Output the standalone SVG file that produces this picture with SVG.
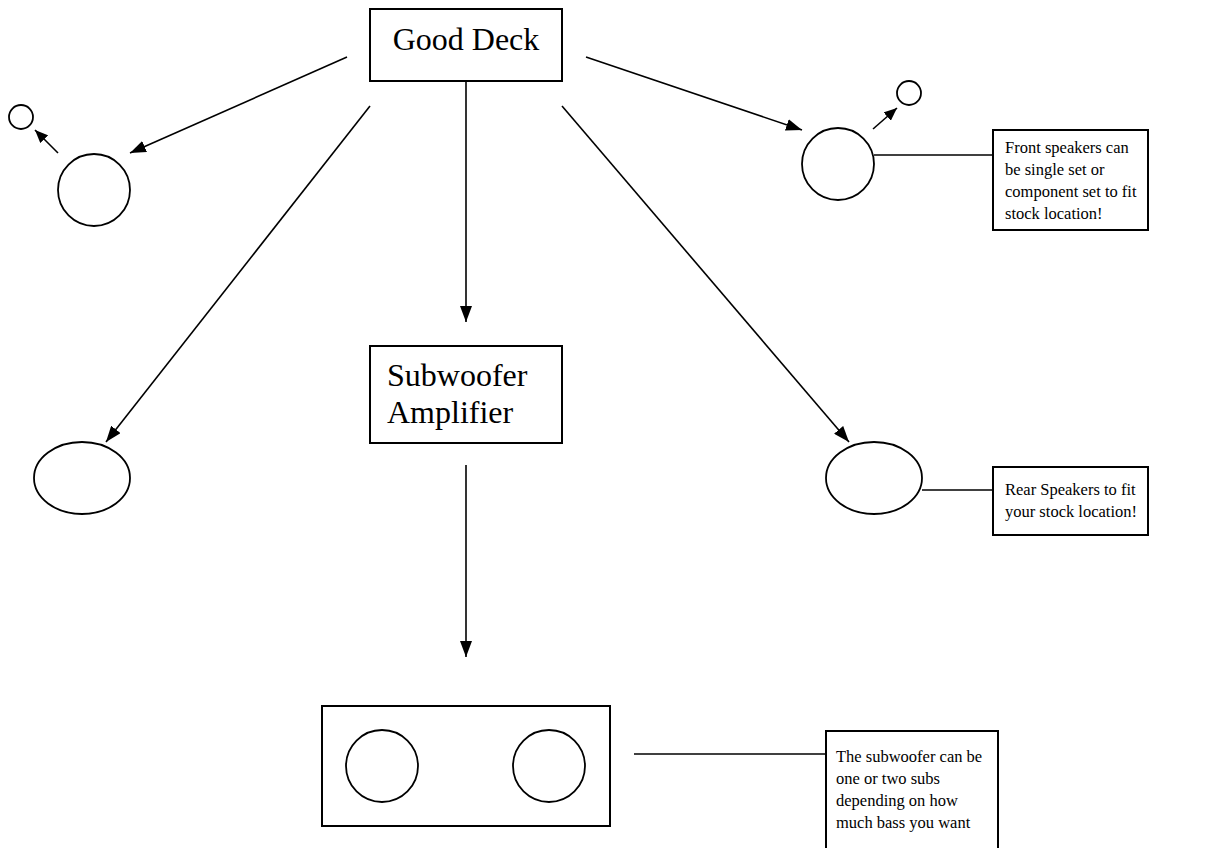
<svg xmlns="http://www.w3.org/2000/svg" width="1212" height="848" viewBox="0 0 1212 848">
<style>
.box{fill:#fff;stroke:#000;stroke-width:2}
.shape{fill:#fff;stroke:#000;stroke-width:1.8}
.conn{stroke:#000;stroke-width:1.6;fill:none}
.big{font-family:"Liberation Serif",serif;font-size:32px;fill:#000}
.note{font-family:"Liberation Serif",serif;font-size:16.5px;fill:#000}
</style>
<defs>
<marker id="ah" viewBox="0 0 16 12" refX="16" refY="6" markerWidth="16" markerHeight="12" markerUnits="userSpaceOnUse" orient="auto"><path d="M0,0 L16,6 L0,12 Z" fill="#000"/></marker>
<marker id="ahs" viewBox="0 0 13 11" refX="13" refY="5.5" markerWidth="13" markerHeight="11" markerUnits="userSpaceOnUse" orient="auto"><path d="M0,0 L13,5.5 L0,11 Z" fill="#000"/></marker>
</defs>
<rect width="1212" height="848" fill="#fff"/>
<g id="connectors">
<line class="conn" x1="347" y1="57" x2="130" y2="153" marker-end="url(#ah)"/>
<line class="conn" x1="58" y1="153" x2="35" y2="130" marker-end="url(#ahs)"/>
<line class="conn" x1="370" y1="106" x2="106" y2="442" marker-end="url(#ah)"/>
<line class="conn" x1="466" y1="81" x2="466" y2="322" marker-end="url(#ah)"/>
<line class="conn" x1="466" y1="465" x2="466" y2="657" marker-end="url(#ah)"/>
<line class="conn" x1="586" y1="57" x2="802" y2="130" marker-end="url(#ah)"/>
<line class="conn" x1="873" y1="129" x2="897" y2="108" marker-end="url(#ahs)"/>
<line class="conn" x1="562" y1="106" x2="849" y2="442" marker-end="url(#ah)"/>
<line class="conn" x1="874" y1="155" x2="993" y2="155"/>
<line class="conn" x1="922" y1="490" x2="993" y2="490"/>
<line class="conn" x1="634" y1="754" x2="826" y2="754"/>
</g>
<g id="good-deck">
<rect class="box" x="370" y="9" width="192" height="72"/>
<text class="big" x="466" y="50" text-anchor="middle">Good Deck</text>
</g>
<g id="subwoofer-amplifier">
<rect class="box" x="370" y="346" width="192" height="97"/>
<text class="big" x="387" y="386">Subwoofer</text>
<text class="big" x="387" y="423">Amplifier</text>
</g>
<g id="front-left-speaker">
<circle class="shape" cx="94" cy="190" r="36"/>
</g>
<g id="front-left-tweeter">
<circle class="shape" cx="21" cy="117" r="12"/>
</g>
<g id="rear-left-speaker">
<ellipse class="shape" cx="82" cy="478" rx="48" ry="36"/>
</g>
<g id="front-right-speaker">
<circle class="shape" cx="838" cy="164" r="36"/>
</g>
<g id="front-right-tweeter">
<circle class="shape" cx="909" cy="93" r="12"/>
</g>
<g id="rear-right-speaker">
<ellipse class="shape" cx="874" cy="478" rx="48" ry="36"/>
</g>
<g id="subwoofer-box">
<rect class="box" x="322" y="706" width="288" height="120"/>
<circle class="shape" cx="382" cy="766" r="36"/>
<circle class="shape" cx="549" cy="766" r="36"/>
</g>
<g id="front-note">
<rect class="box" x="993" y="130" width="155" height="100"/>
<text class="note" x="1005" y="153">Front speakers can</text>
<text class="note" x="1005" y="175">be single set or</text>
<text class="note" x="1005" y="197">component set to fit</text>
<text class="note" x="1005" y="219">stock location!</text>
</g>
<g id="rear-note">
<rect class="box" x="993" y="467" width="155" height="68"/>
<text class="note" x="1005" y="495">Rear Speakers to fit</text>
<text class="note" x="1005" y="517">your stock location!</text>
</g>
<g id="subwoofer-note">
<rect class="box" x="826" y="731" width="172" height="125"/>
<text class="note" x="836" y="762">The subwoofer can be</text>
<text class="note" x="836" y="784">one or two subs</text>
<text class="note" x="836" y="806">depending on how</text>
<text class="note" x="836" y="828">much bass you want</text>
</g>
</svg>
